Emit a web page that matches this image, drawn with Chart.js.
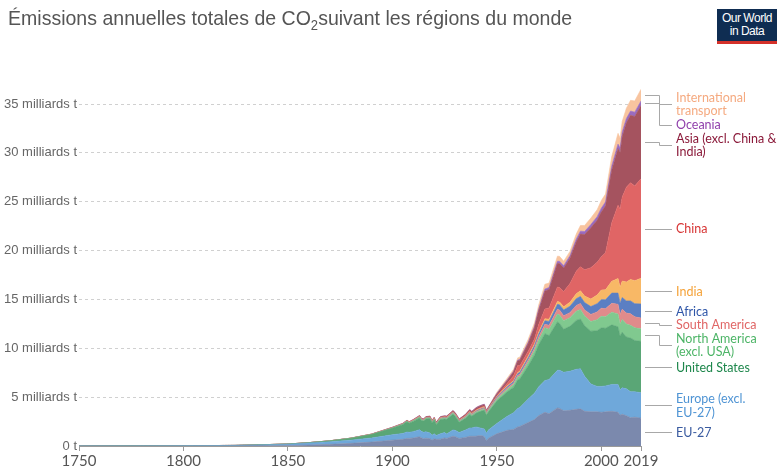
<!DOCTYPE html>
<html><head><meta charset="utf-8">
<script src="https://cdn.jsdelivr.net/npm/chart.js@4"></script>
<style>
html,body{margin:0;padding:0;background:#fff;}
#wrap{position:relative;width:777px;height:469px;overflow:hidden;}
canvas{position:absolute;left:0;top:0;}
#title{position:absolute;left:8px;top:6px;font:21px "Liberation Sans",Arial,sans-serif;color:#555;white-space:nowrap;transform:scaleX(0.93);transform-origin:0 0;}
#title sub{font-size:14px;vertical-align:-5px;line-height:0;}
#logo{position:absolute;left:717px;top:9px;width:60px;height:35px;background:#0f2d52;color:#fff;font:12px "Liberation Sans",Arial,sans-serif;text-align:center;line-height:13px;border-bottom:3px solid #d4312a;box-sizing:border-box;padding-top:3px;letter-spacing:-0.5px;white-space:nowrap;}
</style></head>
<body><div id="wrap"><canvas id="c" width="777" height="469"></canvas>
<div id="title">Émissions annuelles totales de CO<sub>2</sub>suivant les régions du monde</div>
<div id="logo">Our World<br>in Data</div></div>
<script>
const years = [1750,1775,1800,1825,1850,1860,1870,1880,1890,1900,
1905,1907,1908,1910,1913,1914,1915,1916,1918,1919,
1920,1921,1923,1925,1926,1929,1930,1932,1935,1937,
1938,1940,1941,1943,1944,1945,1946,1950,1955,1958,
1960,1961,1965,1968,1970,1973,1975,1979,1980,1982,
1985,1988,1990,1992,1995,1998,2000,2002,2005,2008,
2009,2010,2012,2014,2016,2019];

// milliards de tonnes
const eu27 = [0.0003,0.0006,0.002,0.008,0.05,0.1,0.17,0.27,0.4,0.6,
0.68,0.78,0.78,0.82,0.95,0.82,0.75,0.8,0.75,0.6,
0.75,0.68,0.7,0.82,0.78,1.0,0.95,0.78,0.88,1.0,
1.0,1.0,1.05,1.05,0.95,0.55,0.8,1.25,1.6,1.7,
1.95,2.0,2.4,2.7,3.1,3.45,3.3,3.9,3.85,3.6,
3.65,3.75,3.8,3.55,3.5,3.5,3.45,3.5,3.55,3.45,
3.15,3.25,3.1,2.9,2.95,2.85];
const europeExEU = [0.009,0.012,0.025,0.05,0.13,0.2,0.26,0.33,0.42,0.55,
0.6,0.65,0.62,0.65,0.72,0.66,0.65,0.66,0.58,0.5,
0.5,0.4,0.55,0.55,0.45,0.65,0.65,0.6,0.75,0.85,
0.85,0.95,0.85,0.75,0.8,0.75,0.85,1.05,1.45,1.7,
1.9,1.95,2.4,2.7,2.95,3.25,3.5,3.85,3.9,3.95,
4.0,4.1,4.1,3.6,2.85,2.6,2.65,2.65,2.75,2.85,
2.6,2.7,2.75,2.65,2.6,2.6];
const unitedStates = [0,0.0002,0.0006,0.003,0.02,0.04,0.09,0.18,0.35,0.66,
0.9,1.05,0.92,1.05,1.2,1.1,1.15,1.3,1.45,1.25,
1.4,1.1,1.45,1.4,1.5,1.6,1.45,1.05,1.2,1.4,
1.2,1.4,1.55,1.8,1.9,1.85,1.85,2.3,2.5,2.6,
2.9,2.9,3.4,3.9,4.3,4.8,4.5,4.95,4.8,4.4,
4.6,5.0,5.1,5.15,5.4,5.7,6.0,5.9,6.1,5.9,
5.5,5.7,5.3,5.5,5.25,5.26];
const northAmericaExUSA = [0,0,0,0,0.001,0.002,0.005,0.01,0.018,0.03,
0.04,0.05,0.05,0.06,0.08,0.07,0.06,0.07,0.08,0.07,
0.08,0.07,0.08,0.08,0.085,0.09,0.09,0.07,0.08,0.09,
0.09,0.1,0.11,0.12,0.13,0.13,0.13,0.18,0.24,0.27,
0.3,0.31,0.38,0.45,0.5,0.6,0.65,0.8,0.85,0.88,
0.88,0.95,0.98,1.0,1.0,1.12,1.17,1.18,1.3,1.3,
1.24,1.3,1.33,1.3,1.3,1.28];
const southAmerica = [0,0,0,0,0,0,0.001,0.002,0.004,0.01,
0.013,0.015,0.015,0.02,0.025,0.02,0.02,0.02,0.02,0.02,
0.025,0.025,0.03,0.035,0.035,0.045,0.045,0.04,0.045,0.05,
0.055,0.055,0.06,0.06,0.065,0.07,0.07,0.1,0.14,0.16,
0.18,0.19,0.23,0.26,0.3,0.36,0.4,0.5,0.52,0.5,
0.52,0.58,0.6,0.63,0.72,0.8,0.83,0.82,0.9,1.0,
0.98,1.05,1.12,1.18,1.12,1.1];
const africa = [0,0,0,0,0,0,0.001,0.002,0.003,0.008,
0.01,0.012,0.012,0.015,0.02,0.02,0.02,0.02,0.025,0.025,
0.025,0.025,0.03,0.035,0.035,0.04,0.04,0.035,0.045,0.05,
0.055,0.06,0.06,0.065,0.07,0.07,0.075,0.1,0.14,0.16,
0.18,0.19,0.23,0.27,0.3,0.36,0.4,0.5,0.54,0.6,
0.65,0.7,0.73,0.75,0.8,0.85,0.88,0.92,1.05,1.15,
1.15,1.2,1.25,1.32,1.35,1.45];
const india = [0,0,0,0,0,0.001,0.002,0.004,0.01,0.02,
0.025,0.03,0.03,0.03,0.04,0.04,0.04,0.04,0.045,0.045,
0.045,0.045,0.045,0.045,0.05,0.055,0.055,0.05,0.055,0.06,
0.065,0.07,0.07,0.07,0.07,0.07,0.07,0.07,0.09,0.1,
0.12,0.13,0.16,0.17,0.18,0.2,0.23,0.28,0.29,0.33,
0.42,0.5,0.58,0.66,0.77,0.88,0.98,1.01,1.2,1.5,
1.63,1.68,1.93,2.2,2.35,2.62];
const china = [0,0,0,0,0,0,0,0,0.002,0.005,
0.006,0.008,0.009,0.01,0.015,0.015,0.015,0.017,0.02,0.02,
0.02,0.02,0.025,0.025,0.025,0.03,0.03,0.035,0.04,0.05,
0.04,0.06,0.07,0.08,0.08,0.05,0.04,0.08,0.25,0.5,
0.7,0.55,0.5,0.5,0.8,1.0,1.15,1.5,1.47,1.55,
1.9,2.3,2.45,2.7,3.2,3.35,3.4,3.8,6.0,7.5,
8.0,8.6,9.7,9.9,9.7,10.2];
const asiaExChinaIndia = [0,0,0,0,0,0,0.001,0.002,0.008,0.025,
0.03,0.035,0.035,0.04,0.05,0.05,0.05,0.055,0.065,0.065,
0.065,0.06,0.07,0.075,0.08,0.09,0.09,0.09,0.12,0.15,
0.16,0.18,0.18,0.18,0.16,0.08,0.08,0.2,0.3,0.38,
0.48,0.55,0.8,1.15,1.4,1.85,1.9,2.4,2.45,2.4,
2.6,3.0,3.35,3.6,4.1,4.3,4.6,4.8,5.4,5.8,
5.8,6.2,6.6,6.9,7.1,7.5];
const oceania = [0,0,0,0,0.0005,0.001,0.002,0.004,0.008,0.015,
0.018,0.02,0.02,0.02,0.025,0.025,0.025,0.025,0.025,0.025,
0.025,0.025,0.027,0.028,0.03,0.03,0.03,0.025,0.03,0.035,
0.035,0.04,0.04,0.045,0.045,0.045,0.045,0.06,0.075,0.08,
0.09,0.09,0.12,0.14,0.16,0.19,0.2,0.23,0.24,0.25,
0.26,0.29,0.3,0.31,0.33,0.37,0.38,0.4,0.42,0.45,
0.45,0.45,0.44,0.43,0.45,0.45];
const internationalTransport = [0,0,0,0,0,0,0,0,0,0,
0,0,0,0,0,0,0,0,0,0,
0,0,0,0,0,0,0,0,0,0,
0,0,0,0,0,0,0,0.12,0.17,0.2,
0.22,0.23,0.3,0.36,0.42,0.5,0.45,0.52,0.5,0.45,
0.44,0.52,0.58,0.62,0.66,0.72,0.78,0.8,0.95,1.1,
1.02,1.08,1.05,1.1,1.15,1.2];

const seriesNames = ["EU-27","Europe (excl.\nEU-27)","United States","North America\n(excl. USA)","South America","Africa","India","China","Asia (excl. China &\nIndia)","Oceania","International\ntransport"];
const seriesValues = [eu27,europeExEU,unitedStates,northAmericaExUSA,southAmerica,africa,india,china,asiaExChinaIndia,oceania,internationalTransport];
const areaColors = ["#7b89ad","#6fa8da","#5aa676","#80c98f","#e08b8b","#5b7fc3","#f8b866","#e06565","#a5535f","#9a6bbf","#f8c49f"];
const labelColors = ["#3a5ba0","#4f94d4","#1e874c","#4cb466","#e06666","#2f56a8","#f5a33a","#d73535","#8b1a3a","#9141ac","#f5aa80"];
const xTicks = [1750,1800,1850,1900,1950,2000,2019];
const yTicks = [0,5,10,15,20,25,30,35];

const datasets = seriesValues.map((vals,i)=>({
  label: seriesNames[i].replace('\n',' '),
  data: years.map((yr,k)=>({x:yr,y:vals[k]})),
  backgroundColor: areaColors[i],
  borderColor: areaColors[i],
  borderWidth: 0.6,
  pointRadius: 0,
  fill: i===0 ? 'origin' : '-1',
  tension: 0
}));

const sideLabels = {
  id:'sideLabels',
  afterDatasetsDraw(chart){
    const ctx = chart.ctx, ys = chart.scales.y, area = chart.chartArea;
    const n = years.length-1;
    let cum = 0;
    const items = [];
    seriesValues.forEach((vals,i)=>{
      const v = vals[n];
      const mid = cum + v/2; cum += v;
      items.push({target: ys.getPixelForValue(mid), lines: seriesNames[i].split('\n'), color: labelColors[i]});
    });
    items.sort((a,b)=>a.target-b.target);
    const LH = 13.6;
    let prevBottom = area.top + 6;
    items.forEach(it=>{
      const h = it.lines.length*LH;
      let top = it.target - h/2;
      if (top < prevBottom) top = prevBottom;
      it.center = top + h/2; prevBottom = top + h;
    });
    ctx.save();
    ctx.strokeStyle = '#a8a8a8'; ctx.lineWidth = 1;
    const x0 = area.right + 4, xm = 659, x1 = 672;
    items.forEach(it=>{
      const ty = Math.round(it.target)+0.5, cy = Math.round(it.center)+0.5;
      const bend = Math.abs(cy-ty) > 1.5;
      ctx.beginPath();
      ctx.moveTo(x0, ty);
      if (bend) { ctx.lineTo(xm+0.5, ty); ctx.lineTo(xm+0.5, cy); }
      ctx.lineTo(x1, bend ? cy : ty);
      ctx.stroke();
      ctx.fillStyle = it.color; ctx.font = '12.5px Lato'; ctx.textBaseline = 'middle';
      const h = it.lines.length*LH;
      it.lines.forEach((t,k)=> ctx.fillText(t, x1+4, it.center - h/2 + LH/2 + k*LH + 0.5));
    });
    ctx.restore();
  }
};

new Chart(document.getElementById('c'), {
  type: 'line',
  data: { datasets },
  options: {
    responsive: false,
    animation: false,
    layout: { padding: { top: 84.5, right: 136, left: 0, bottom: 0 } },
    plugins: { legend: { display: false }, tooltip: { enabled: false } },
    elements: { line: { borderJoinStyle: 'round' } },
    scales: {
      x: {
        type: 'linear', min: 1750, max: 2019,
        afterBuildTicks: ax => { ax.ticks = xTicks.map(v=>({value:v})); },
        afterFit: ax => { ax.height = 23; },
        grid: { drawOnChartArea: false, drawTicks: true, tickLength: 5, color: '#9a9a9a' },
        border: { color: '#9a9a9a', width: 1 },
        ticks: { autoSkip: false, maxRotation: 0, padding: 1, color: '#555', font: { family: 'Lato', size: 15 }, callback: v => String(v) }
      },
      y: {
        stacked: true, min: 0, max: 37,
        afterBuildTicks: ax => { ax.ticks = yTicks.map(v=>({value:v})); },
        afterFit: ax => { ax.width = 79; },
        grid: { drawTicks: false, color: ctx => ctx.tick && ctx.tick.value === 0 ? 'rgba(0,0,0,0)' : '#d0d0d0' },
        border: { display: false, dash: [3,3] },
        ticks: { padding: 2, color: '#666', font: { family: 'Liberation Sans', size: 13 }, callback: v => v === 0 ? '0 t' : v + ' milliards t' }
      }
    }
  },
  plugins: [sideLabels]
});
</script>
</body></html>
